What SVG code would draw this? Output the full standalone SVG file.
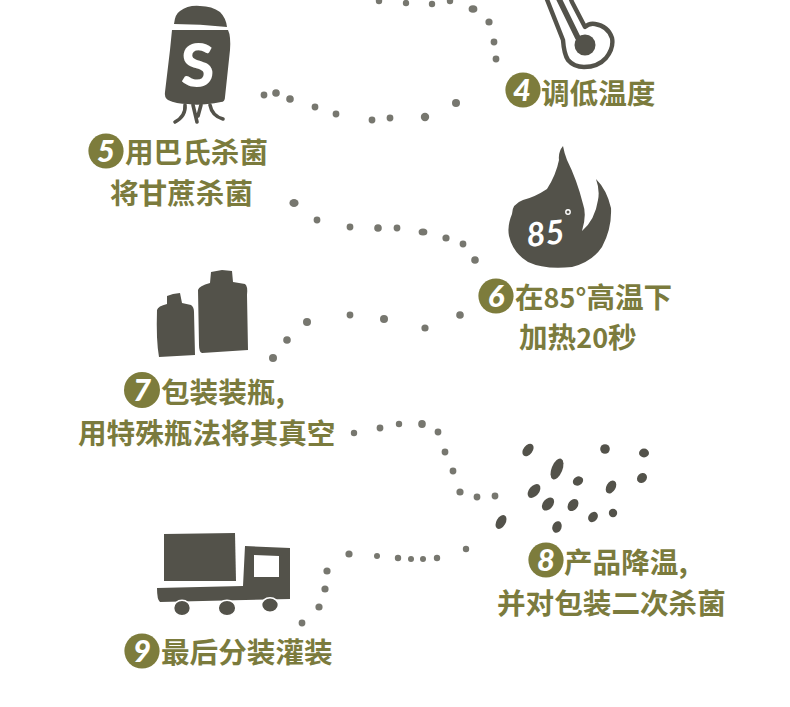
<svg xmlns="http://www.w3.org/2000/svg" width="790" height="707" viewBox="0 0 790 707">
<style>
.l{font-family:"Noto Sans CJK SC","Noto Sans",sans-serif;font-weight:700;font-size:28.6px;fill:#7b7b3d}
.a{font-family:"Noto Sans CJK SC","Noto Sans",sans-serif;font-size:27px}
.b{fill:#7d7c3c}
.n{font-family:"Lato","Open Sans",sans-serif;font-weight:900;font-style:italic;font-size:31px;fill:#fff;text-anchor:middle}
.i{fill:#53524a}
.w{fill:#53524a;stroke:#fff;stroke-width:1.5}
.s{fill:none;stroke:#53524a;stroke-linecap:round;stroke-linejoin:round}
.d{fill:#77776f}
</style>
<rect width="790" height="707" fill="#fff"/>
<g id="connectors" class="d">
<circle cx="379" cy="1" r="3.2"/><circle cx="406" cy="3" r="3.2"/><circle cx="432" cy="4" r="3.2"/><circle cx="450" cy="1" r="3.2"/><ellipse cx="473" cy="9" rx="4.4" ry="3.8"/><circle cx="489" cy="22" r="3.6"/><circle cx="494" cy="42" r="3.4"/><circle cx="496" cy="59" r="3.4"/>
<circle cx="456" cy="103" r="4"/><circle cx="425" cy="117" r="4.2"/><circle cx="390" cy="118" r="3.4"/><circle cx="372" cy="120" r="3.4"/><circle cx="336" cy="114" r="3.4"/><circle cx="315" cy="107" r="3.4"/><circle cx="290" cy="99" r="3.8"/><circle cx="276" cy="93" r="3.8"/><circle cx="264" cy="95" r="3.4"/>
<ellipse cx="294" cy="203" rx="4.6" ry="4"/><circle cx="317" cy="220" r="3.4"/><circle cx="350" cy="227" r="3.4"/><circle cx="378" cy="228" r="3.8"/><circle cx="397" cy="228" r="3.4"/><ellipse cx="423" cy="232" rx="4.4" ry="3.6"/><circle cx="446" cy="238" r="3.6"/><circle cx="463" cy="244" r="3.4"/><circle cx="475" cy="260" r="3.8"/>
<circle cx="460" cy="315" r="3.8"/><circle cx="425" cy="328" r="3.6"/><circle cx="384" cy="319" r="4"/><circle cx="350" cy="315" r="3.4"/><circle cx="307" cy="322" r="4"/><circle cx="287" cy="340" r="3.8"/><circle cx="273" cy="358" r="4"/>
<circle cx="354" cy="433" r="3.2"/><circle cx="380" cy="428" r="3.4"/><circle cx="399" cy="424" r="3.2"/><ellipse cx="422" cy="424" rx="3.8" ry="4"/><circle cx="438" cy="432" r="3.4"/><circle cx="445" cy="452" r="3.4"/><circle cx="453" cy="471" r="3.4"/><circle cx="460" cy="492" r="3.6"/><circle cx="477" cy="497" r="3.4"/><circle cx="495" cy="496" r="3.4"/>
<circle cx="466" cy="549" r="3.2"/><circle cx="437" cy="558" r="3.2"/><circle cx="423" cy="559" r="3"/><circle cx="411" cy="559" r="3"/><circle cx="398" cy="558" r="3.2"/><circle cx="377" cy="556" r="3"/><circle cx="349" cy="554" r="3.6"/><circle cx="327" cy="571" r="3.6"/><circle cx="325" cy="589" r="3.6"/><circle cx="319" cy="607" r="3.6"/><circle cx="302" cy="623" r="3.4"/>
</g>
<g id="node-4">
<path class="s" stroke-width="4.4" d="M546 -3L563 40Q564 54 568 60Q574 67 584 67Q598 67 606 58Q614 48 612 38Q608 26 595 24Q589 23 585 27L572 2L570 -3"/>
<path class="s" stroke-width="5.6" d="M558 -3L578 38"/>
<circle class="i" cx="585" cy="45" r="10.500"/>
<circle class="b" cx="523" cy="90" r="17.6"/>
<text class="n" x="522" y="101">4</text>
<text class="l" x="541" y="104">调低温度</text>
</g>
<g id="node-5">
<path class="i" d="M174 24Q175 14 180 11Q188 5 200 6Q212 6 220 12Q226 18 227 27Q200 24 174 24Z"/>
<path class="i" d="M172 30L228 30Q231 36 230 50L225 97Q225 102 221 102Q200 106 188 104Q176 104 168 100Q164 97 165 92L170 50Z"/>
<path class="s" stroke-width="3.6" d="M185 105Q186 116 175 122M193 105L197 122M201 105L198 116M210 105Q212 116 223 119"/>
<text x="197.500" y="87" font-family="Lato,sans-serif" font-weight="900" font-size="61" fill="#fff" text-anchor="middle">S</text>
<circle class="b" cx="106" cy="151" r="17.6"/>
<text class="n" x="106" y="162">5</text>
<text class="l" x="125" y="163">用巴氏杀菌</text>
<text class="l" x="110" y="204">将甘蔗杀菌</text>
</g>
<g id="node-6">
<path class="i" d="M563 146Q558 152 559 160Q556 175 547 189Q535 197 523 200Q512 204 512 214Q507 226 509 236Q513 253 528 262Q545 270 572 267Q592 262 602 247Q612 228 611 208Q607 190 596 179Q600 190 598 200Q595 220 582 231Q587 215 583 204Q577 180 567 160Q564 152 563 146Z"/>
<text x="526" y="245" transform="rotate(-6 545 232)" font-family="Lato,sans-serif" font-weight="700" font-style="italic" font-size="33" fill="#fff">85</text>
<circle cx="568" cy="212" r="2.2" fill="none" stroke="#fff" stroke-width="1.4"/>
<circle class="b" cx="496" cy="296" r="17.6"/>
<text class="n" x="496" y="307">6</text>
<text class="l" x="515" y="308">在<tspan class="a">85°</tspan>高温下</text>
<text class="l" x="519" y="348">加热<tspan class="a">20</tspan>秒</text>
</g>
<g id="node-7">
<path class="i" d="M157 310Q158 306 167 304V296L173 294L180 293L182 303L191 305Q194 307 194 312L195 355L159 357Q156 340 157 310Z"/>
<path class="i" d="M198 290Q199 286 210 283L211 272L222 270L232 271L233 282L245 284Q248 286 247 295L248 350L202 353Q199 352 199 345Z"/>
<circle class="b" cx="142" cy="390" r="18"/>
<text class="n" x="142" y="401">7</text>
<text class="l" x="161" y="403">包装装瓶,</text>
<text class="l" x="78" y="444">用特殊瓶法将其真空</text>
</g>
<g id="node-8" class="i">
<ellipse cx="528" cy="450" rx="7" ry="4.6" transform="rotate(-52 528 450)"/><circle cx="605" cy="449" r="4.8"/><ellipse cx="644" cy="453" rx="5" ry="4.4"/><ellipse cx="557" cy="469" rx="11" ry="5.4" transform="rotate(-68 557 469)"/><ellipse cx="578" cy="481" rx="5.4" ry="4.4" transform="rotate(-30 578 481)"/><ellipse cx="611" cy="487" rx="7" ry="4.6" transform="rotate(-60 611 487)"/><ellipse cx="642" cy="478" rx="5.4" ry="4.6" transform="rotate(-45 642 478)"/><ellipse cx="534" cy="491" rx="8" ry="5" transform="rotate(-50 534 491)"/><ellipse cx="548" cy="504" rx="7.400" ry="5" transform="rotate(-50 548 504)"/><ellipse cx="573" cy="505" rx="6.600" ry="4.800" transform="rotate(-55 573 505)"/><ellipse cx="593" cy="517" rx="5.600" ry="4.400" transform="rotate(-50 593 517)"/><circle cx="613" cy="513" r="4.200"/><ellipse cx="501" cy="522" rx="7.600" ry="4.600" transform="rotate(-60 501 522)"/><ellipse cx="557" cy="527" rx="6" ry="4.600" transform="rotate(-70 557 527)"/>
<circle class="b" cx="546" cy="560" r="17.6"/>
<text class="n" x="546" y="571">8</text>
<text class="l" x="564" y="573">产品降温,</text>
<text class="l" x="497" y="614">并对包装二次杀菌</text>
</g>
<g id="node-9">
<path class="i" d="M164 534L235 533L236 581L164 581Z"/>
<path class="i" fill-rule="evenodd" d="M157 588L243 586L245 546L290 548L290 599L160 602Q157 600 157 588ZM254 555V577H279V556Z"/>
<ellipse class="w" cx="182" cy="608" rx="8.400" ry="7.800"/><ellipse class="w" cx="227" cy="608" rx="8.800" ry="7.800"/><ellipse class="w" cx="270" cy="605" rx="8.400" ry="7.200"/>
<circle class="b" cx="142" cy="651" r="17.6"/>
<text class="n" x="142" y="662">9</text>
<text class="l" x="161" y="663">最后分装灌装</text>
</g>
</svg>
